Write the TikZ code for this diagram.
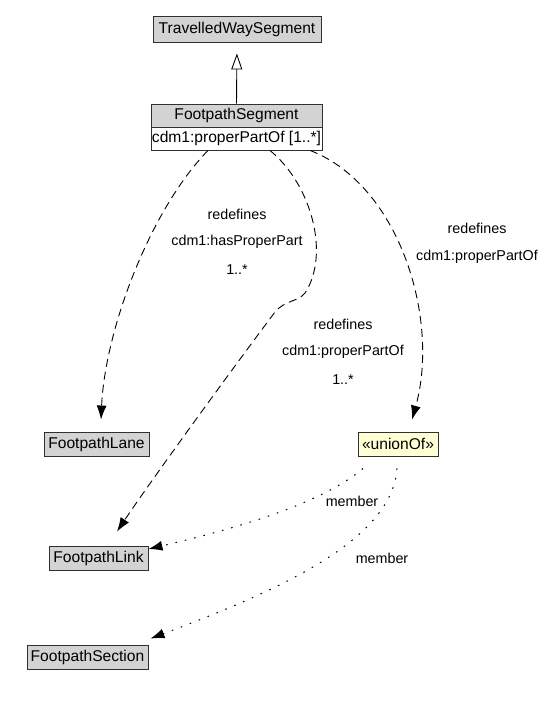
\documentclass[tikz,border=0pt]{standalone}
\usepackage{fontspec}
\setmainfont{Liberation Sans}
\usetikzlibrary{arrows.meta,calc}
\definecolor{clsgray}{HTML}{D3D3D3}
\definecolor{unionfill}{HTML}{FFFFD6}
\definecolor{bordercol}{HTML}{303030}
\begin{document}
\begin{tikzpicture}[x=1pt,y=-1pt,
  cls/.style={draw=bordercol, line width=0.9pt, fill=clsgray, rectangle, inner sep=0pt,
    minimum height=24pt, font=\fontsize{15.6}{18}\selectfont},
  attr/.style={cls, fill=white},
  unionbox/.style={cls, fill=unionfill},
  lbl/.style={font=\fontsize{14.3}{17}\selectfont, inner sep=0pt},
  dep/.style={dash pattern=on 8pt off 5pt, line width=0.9pt, -{Latex[length=14pt,width=10pt]}},
  mem/.style={line width=1pt, dash pattern=on 1.6pt off 8pt, -{Latex[length=14pt,width=10pt]}},
  gen/.style={line width=0.9pt, -{Triangle[open,length=16pt,width=11pt]}}
]
\useasboundingbox[fill=white] (0,0) rectangle (549,706);

% nodes
\node[cls, minimum width=168pt, minimum height=26pt] (tws) at (237,29) {TravelledWaySegment};
\node[cls, minimum width=171pt, minimum height=23pt] (fpsH) at (236.5,115.5) {FootpathSegment};
\node[attr, minimum width=171pt, minimum height=23pt] (fpsA) at (236.5,138.5) {cdm1:properPartOf [1..*]};
\node[cls, minimum width=105pt] (lane) at (96.5,444) {FootpathLane};
\node[cls, minimum width=99pt] (link) at (98.5,558) {FootpathLink};
\node[cls, minimum width=121pt] (section) at (87.5,657) {FootpathSection};
\node[unionbox, minimum width=80pt] (union) at (398,444) {«unionOf»};

% generalization
\draw[gen, shorten >=11pt] (fpsH.north) -- (tws.south);

% redefines -> FootpathLane
\draw[dep] ($(fpsA.south)+(-28.5,0)$) .. controls (150,210) and (105,330) .. ($(lane.north)+(4.5,-12)$);
\node[lbl] (l1a) at (237,214) {redefines};
\node[lbl] (l1b) at (237,242) {cdm1:hasProperPart};
\node[lbl] (l1c) at (237,270) {1..*};

% redefines -> FootpathLink
\draw[dep] ($(fpsA.south)+(33.5,0)$) .. controls (312,185) and (330,255) .. (305,293)
  .. controls (298,302) and (285,300) .. (275,312)
  .. controls (230,372) and (150,482) .. ($(link.north)+(18.5,-14)$);
\node[lbl] (l2a) at (343,324) {redefines};
\node[lbl] (l2b) at (343,352) {cdm1:properPartOf};
\node[lbl] (l2c) at (343,380) {1..*};

% redefines -> unionOf
\draw[dep] ($(fpsA.south)+(73.5,0)$) .. controls (400,185) and (440,320) .. ($(union.north)+(14,-12)$);
\node[lbl] (l3a) at (477,228) {redefines};
\node[lbl] (l3b) at (477,257) {cdm1:properPartOf};

% members
\draw[mem] ($(union.south)+(-35,12)$) .. controls (320,505) and (230,530) .. ($(link.east)+(0,-9)$);
\node[lbl] (m1) at (352,501) {member};
\draw[mem] ($(union.south)+(-1,12)$) .. controls (392,540) and (280,590) .. ($(section.north east)+(2,-6)$);
\node[lbl] (m2) at (382,558) {member};
\end{tikzpicture}
\end{document}
